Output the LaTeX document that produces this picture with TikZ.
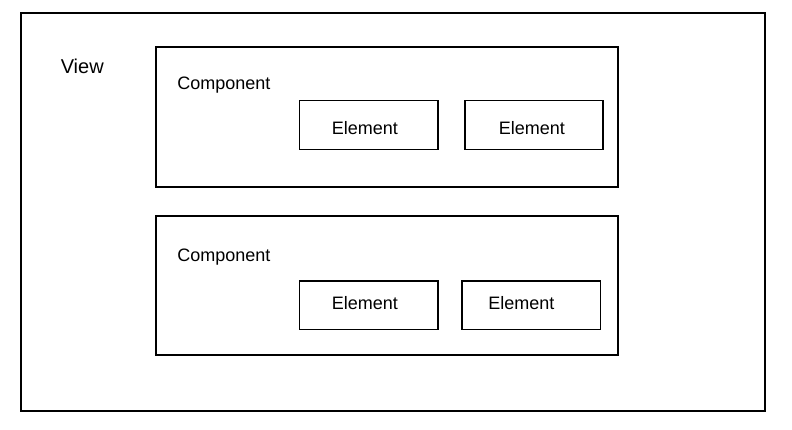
\documentclass[tikz,border=0pt]{standalone}
\usepackage{fontspec}
\setmainfont{Liberation Sans}
\begin{document}
\begin{tikzpicture}[x=0.75pt,y=-0.75pt,
  box/.style={draw=black,line width=1.1pt,fill=none},
  lbl/.style={anchor=base west,inner sep=0pt,font=\fontsize{13.5}{16}\selectfont},
  title/.style={anchor=base west,inner sep=0pt,font=\fontsize{15}{18}\selectfont}]
  \useasboundingbox (0,0) rectangle (792,429);
  % outer view frame
  \draw[box] (21,13) rectangle (765,411);
  \node[title] (view) at (60.5,73.3) {View};
  % first component
  \draw[box] (156,47) rectangle (618,187);
  \node[lbl] (comp1) at (177,89.3) {Component};
  \draw[box] (299.5,100.5) rectangle (438,149.5);
  \node[lbl] (el11) at (331.5,134.3) {Element};
  \draw[box] (465,100.5) rectangle (603,149.5);
  \node[lbl] (el12) at (498.5,134.3) {Element};
  % second component
  \draw[box] (156,216) rectangle (618,355);
  \node[lbl] (comp2) at (177,261) {Component};
  \draw[box] (299.5,281) rectangle (438,329.5);
  \node[lbl] (el21) at (331.5,309.3) {Element};
  \draw[box] (462,281) rectangle (600.5,329.5);
  \node[lbl] (el22) at (488,309.3) {Element};
\end{tikzpicture}
\end{document}
